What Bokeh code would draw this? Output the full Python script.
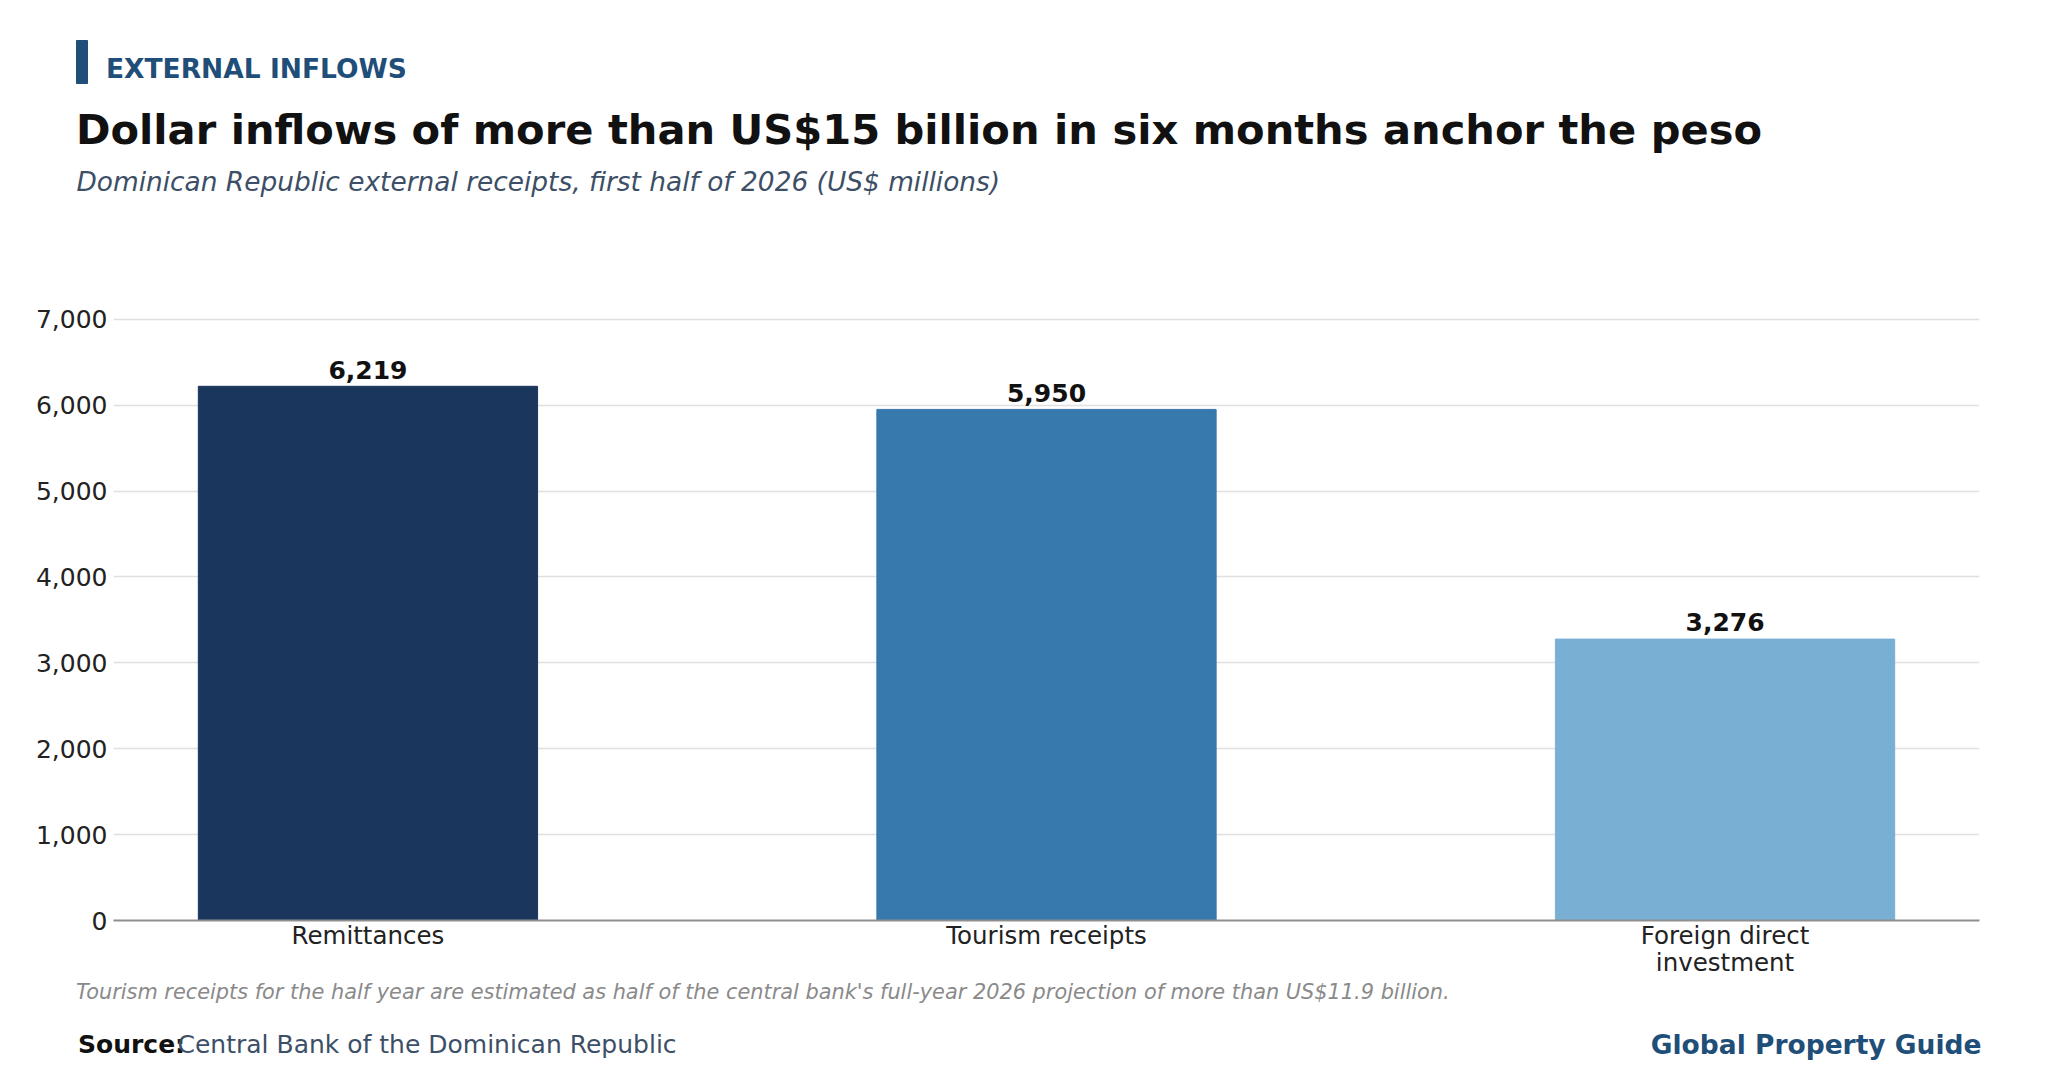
from bokeh.plotting import figure
from bokeh.layouts import column, row
from bokeh.models import (NumeralTickFormatter, ColumnDataSource, FixedTicker,
                          Range1d, LinearAxis)
from bokeh.core.properties import value
from bokeh.embed import file_html
from bokeh.resources import INLINE

# data
categories = ["Remittances", "Tourism receipts", "Foreign direct investment"]
values = [6219, 5950, 3276]
colors = ["#1b365d", "#3778ad", "#7aafd4"]
y_ticks = [0, 1000, 2000, 3000, 4000, 5000, 6000, 7000]
tick_line1 = ["Remittances", "Tourism receipts", "Foreign direct"]
tick_line2 = ["", "", "investment"]

FONT = "DejaVu Sans"
W = 2056
SHIFT = 0.35  # alphabetic baseline lands this many em lower, so lift it


def blank(h):
    # figure whose data units are pixels, y pointing down
    f = figure(width=W, height=h, x_range=Range1d(0, W), y_range=Range1d(h, 0),
               output_backend="svg", toolbar_location=None,
               min_border=0, outline_line_color=None)
    f.axis.visible = False
    f.grid.visible = False
    return f


def txt(f, x, y, text, size, color, style="normal", align="left"):
    f.text(x=[x], y=[y - SHIFT * size], text=[text], text_font=value(FONT),
           text_font_size=f"{size}px", text_color=color, text_font_style=style,
           text_align=align, text_baseline="alphabetic")


# header
head = blank(250)
head.quad(left=[76], right=[87], top=[40], bottom=[83], color="#1f4e79")
txt(head, 105.5, 77, "EXTERNAL INFLOWS", 26.5, "#1f4e79", "bold")
txt(head, 75.5, 144, "Dollar inflows of more than US$15 billion in six months anchor the peso",
    41.6, "#111111", "bold")
txt(head, 76, 190, "Dominican Republic external receipts, first half of 2026 (US$ millions)",
    26.4, "#3d4f66", "italic")

# chart
pos = list(range(len(categories)))
src = ColumnDataSource(data=dict(
    x=pos,
    cat=categories,
    val=values,
    color=colors,
    label=[f"{v:,}" for v in values],
))

p = figure(
    width=W, height=729,
    x_range=(-0.375, len(categories) - 0.625),
    y_range=(0, 7020),
    output_backend="svg", toolbar_location=None,
    min_border_left=113, min_border_right=77, min_border_top=67, min_border_bottom=58,
)
p.outline_line_color = None

p.vbar(x="x", top="val", width=0.5, color="color", source=src)
p.text(x="x", y="val", text="label", source=src, text_align="center",
       text_baseline="alphabetic", y_offset=-8 - SHIFT * 25, text_font_size="25px",
       text_font_style="bold", text_color="#111111", text_font=value(FONT))

p.yaxis.ticker = FixedTicker(ticks=y_ticks)
p.yaxis.formatter = NumeralTickFormatter(format="0,0")
p.yaxis.axis_line_color = None
p.yaxis.major_tick_line_color = None
p.yaxis.minor_tick_line_color = None
p.yaxis.major_tick_out = 0
p.yaxis.minor_tick_out = 0
p.yaxis.major_label_standoff = 6
p.yaxis.major_label_text_font_size = "25px"
p.yaxis.major_label_text_font = FONT
p.yaxis.major_label_text_color = "#222222"

# category labels: first line on the main x axis, wrapped part on a second axis
xa = p.xaxis[0]
xa.ticker = FixedTicker(ticks=pos)
xa.major_label_overrides = {i: t for i, t in zip(pos, tick_line1)}
xa.axis_line_color = "#8f8f8f"
xa.axis_line_width = 2
xa.major_label_standoff = 0
wrap_pos = [i for i, t in zip(pos, tick_line2) if t]
x2 = LinearAxis(ticker=FixedTicker(ticks=wrap_pos),
                major_label_overrides={i: t for i, t in zip(pos, tick_line2) if t})
p.add_layout(x2, "below")
x2.axis_line_color = None
x2.major_label_standoff = -5
for ax in p.xaxis:
    ax.major_tick_line_color = None
    ax.minor_tick_line_color = None
    ax.major_tick_out = 0
    ax.major_tick_in = 0
    ax.minor_tick_out = 0
    ax.major_label_text_font = FONT
    ax.major_label_text_font_size = "24.5px"
    ax.major_label_text_color = "#222222"
p.xgrid.grid_line_color = None
p.ygrid.grid_line_color = "#e0e0e0"
p.ygrid.grid_line_width = 1.5

# footer
foot = blank(107)
txt(foot, 75.5, 19.8, "Tourism receipts for the half year are estimated as half of the central "
    "bank's full-year 2026 projection of more than US$11.9 billion.",
    20.86, "#8a8a8a", "italic")
txt(foot, 77.5, 74, "Source:", 25, "#111111", "bold")
txt(foot, 177, 74, "Central Bank of the Dominican Republic", 25, "#3d4f66")
txt(foot, 1981, 74, "Global Property Guide", 26.5, "#1f4e79", "bold", "right")

layout = column(row(head), row(p), row(foot), spacing=0)
open("out.html", "w").write(file_html(layout, INLINE))
